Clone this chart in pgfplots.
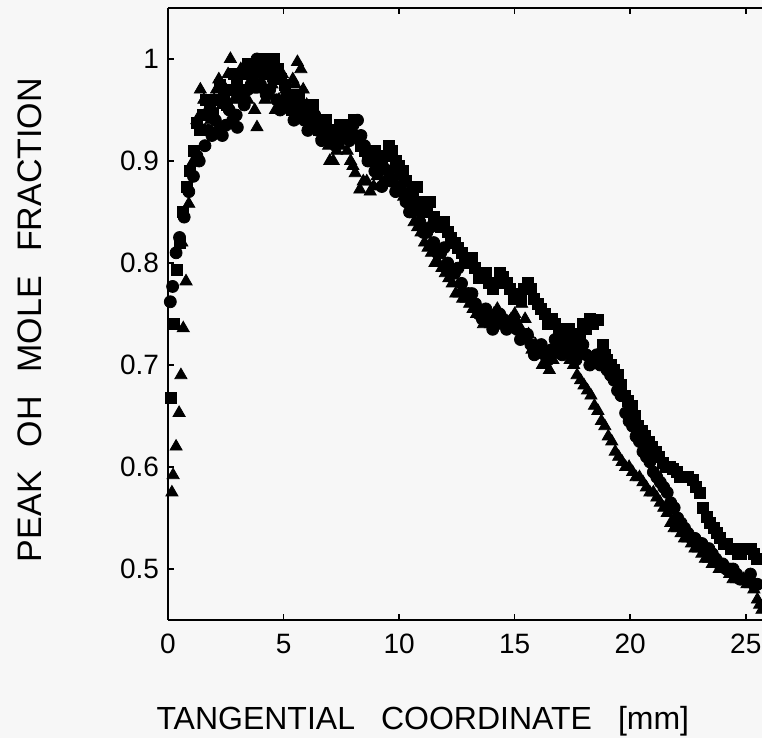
\documentclass[border=0pt]{standalone}
\usepackage{fontspec}
\setmainfont{Liberation Sans}
\usepackage{pgfplots}
\pgfplotsset{compat=1.18}
\pgfplotsset{
  circ/.style={only marks, mark=*, mark size=3pt, black},
  sq/.style={only marks, mark=square*, mark size=2.75pt, black},
  tri/.style={only marks, mark=triangle*, mark size=3.5pt, black},
}
\begin{document}
\begin{tikzpicture}
\path[use as bounding box, fill=white!97!black] (-84pt,-59pt) rectangle (297pt,310pt);
\begin{axis}[
  at={(0,0)}, anchor=south west,
  scale only axis, width=297pt, height=306pt,
  xmin=0, xmax=25.7, ymin=0.45, ymax=1.05,
  axis x line*=box, axis y line*=left,
  xtick={0,5,10,15,20,25}, ytick={0.5,0.6,0.7,0.8,0.9,1},
  yticklabels={0.5,0.6,0.7,0.8,0.9,1},
  /pgf/number format/assume math mode=true,
  tick label style={font=\fontsize{14}{16}\selectfont},
  xticklabel style={yshift=-3.5pt},
  yticklabel style={xshift=-1pt},
  major tick length=3pt,
  tick style={black, line width=0.8pt},
  axis line style={line width=1pt},
  xlabel={TANGENTIAL\hspace{13pt}COORDINATE\hspace{13pt}[mm]},
  ylabel={PEAK\hspace{12pt}OH\hspace{12pt}MOLE\hspace{12pt}FRACTION},
  xlabel style={font=\fontsize{16}{18}\selectfont, at={(axis description cs:0.429,0)}, anchor=base, yshift=-55pt},
  ylabel style={font=\fontsize{17}{19}\selectfont, at={([xshift=-63pt]axis description cs:0,0.49)}, anchor=base},
  clip=true,
]
% circles
\addplot[circ] coordinates {
(0.1,0.762)(0.2,0.777)(0.35,0.81)(0.5,0.825)(0.7,0.845)(0.9,0.87)(1.1,0.885)(1.35,0.90)(1.6,0.915)(1.9,0.925)(2.2,0.93)(2.5,0.935)(2.8,0.94)(3.0,0.933)(3.3,0.955)(3.6,0.975)(3.85,1.0)(4.1,0.99)(4.4,0.97)(4.7,0.96)(5.0,0.955)(5.3,0.95)(5.6,0.945)(5.9,0.94)(6.2,0.935)(6.5,0.93)(6.8,0.925)(7.1,0.92)(7.4,0.925)(7.7,0.93)(8.0,0.935)(8.2,0.94)(8.5,0.915)(8.8,0.90)(9.1,0.89)(9.4,0.88)(9.7,0.88)(10.0,0.875)(10.3,0.86)(10.6,0.85)(10.9,0.84)(11.2,0.83)(11.5,0.82)(11.8,0.81)(12.1,0.80)(12.4,0.79)(12.7,0.78)(13.0,0.77)(13.3,0.76)(13.6,0.745)(13.9,0.745)(14.2,0.74)(14.5,0.745)(14.8,0.74)(15.1,0.735)(15.4,0.73)(15.7,0.72)(16.0,0.715)(16.3,0.71)(16.6,0.715)(16.9,0.72)(17.2,0.715)(17.5,0.71)(17.8,0.715)(18.1,0.71)(18.4,0.705)(18.7,0.70)(19.0,0.695)(19.3,0.685)(19.6,0.67)(19.8,0.653)(20.1,0.64)(20.4,0.625)(20.7,0.61)(21.0,0.595)(21.3,0.585)(21.6,0.575)(21.9,0.56)(22.2,0.545)(22.5,0.535)(22.8,0.53)(23.1,0.525)(23.4,0.52)(23.7,0.51)(24.0,0.505)(24.3,0.50)(24.6,0.495)(24.9,0.49)(25.2,0.495)(25.5,0.485)
};
\addplot[circ] coordinates {
(1.25,0.905)(1.75,0.93)(2.05,0.94)(2.35,0.925)(2.65,0.95)(2.95,0.945)(3.15,0.965)(3.45,0.97)(3.75,0.985)(4.0,0.975)(4.25,0.965)(4.55,0.98)(4.85,0.95)(5.15,0.965)(5.45,0.94)(5.75,0.955)(6.05,0.93)(6.35,0.945)(6.65,0.92)(6.95,0.93)(7.25,0.915)(7.55,0.93)(7.85,0.92)(8.35,0.925)(8.65,0.9)(8.95,0.89)(9.25,0.875)(9.55,0.89)(9.85,0.87)(10.15,0.87)(10.45,0.85)(10.75,0.855)(11.05,0.83)(11.35,0.835)(11.65,0.81)(11.95,0.815)(12.25,0.79)(12.55,0.795)(12.85,0.77)(13.15,0.77)(13.45,0.75)(13.75,0.755)(14.05,0.735)(14.35,0.75)(14.65,0.735)(14.95,0.745)(15.25,0.725)(15.55,0.73)(15.85,0.71)(16.15,0.72)(16.45,0.705)(16.75,0.725)(17.05,0.71)(17.35,0.72)(17.65,0.705)(17.95,0.72)(18.25,0.70)(18.55,0.71)
(19.15,0.69)(19.45,0.675)(19.95,0.645)(20.25,0.63)(20.55,0.615)(20.85,0.605)(21.15,0.59)(21.45,0.58)(21.75,0.565)(22.05,0.55)(22.35,0.54)(22.65,0.53)(22.95,0.525)(23.25,0.52)(23.55,0.515)(23.85,0.505)(24.15,0.5)(24.45,0.5)(24.75,0.49)(25.05,0.49)(25.35,0.485)
};
% squares
\addplot[sq] coordinates {
(0.13,0.668)(0.27,0.74)(0.39,0.793)(0.5,0.82)(0.65,0.85)(0.8,0.875)(0.95,0.89)(1.1,0.91)(1.25,0.937)(1.5,0.945)(1.8,0.955)(2.1,0.96)(2.4,0.965)(2.7,0.97)(3.0,0.98)(3.3,0.985)(3.6,0.99)(3.9,0.995)(4.2,0.985)(4.6,1.0)(4.9,0.98)(5.2,0.965)(5.5,0.96)(5.8,0.955)(6.1,0.95)(6.4,0.94)(6.7,0.935)(7.0,0.93)(7.3,0.925)(7.6,0.93)(7.9,0.935)(8.2,0.925)(8.5,0.91)(8.8,0.90)(9.1,0.895)(9.4,0.905)(9.7,0.91)(10.0,0.895)(10.3,0.88)(10.6,0.87)(10.9,0.86)(11.2,0.855)(11.5,0.845)(11.8,0.835)(12.1,0.83)(12.4,0.82)(12.7,0.81)(13.0,0.80)(13.3,0.795)(13.6,0.785)(13.9,0.78)(14.2,0.78)(14.5,0.786)(14.8,0.775)(15.1,0.77)(15.4,0.775)(15.7,0.775)(16.0,0.76)(16.3,0.75)(16.6,0.745)(16.9,0.735)(17.2,0.73)(17.5,0.725)(17.8,0.73)(18.1,0.735)(18.4,0.74)(18.6,0.744)(18.8,0.72)(19.0,0.705)(19.3,0.695)(19.6,0.68)(19.9,0.665)(20.2,0.65)(20.5,0.635)(20.8,0.625)(21.1,0.615)(21.4,0.604)(21.7,0.60)(22.0,0.595)(22.3,0.59)(22.7,0.587)(23.0,0.575)(23.3,0.551)(23.6,0.54)(23.9,0.53)(24.2,0.525)(24.5,0.52)(24.8,0.515)(25.2,0.52)(25.5,0.51)
};
\addplot[sq] coordinates {
(1.4,0.93)(1.65,0.96)(1.95,0.945)(2.25,0.975)(2.55,0.955)(2.85,0.985)(3.15,0.97)(3.45,0.995)(3.75,0.975)(4.05,1.0)(4.4,0.99)(4.75,0.99)(5.05,0.975)(5.35,0.95)(5.65,0.965)(5.95,0.945)(6.25,0.955)(6.55,0.93)(6.85,0.94)(7.15,0.92)(7.45,0.935)(7.75,0.925)(8.05,0.94)(8.35,0.915)(8.65,0.905)(8.95,0.91)(9.25,0.9)(9.55,0.915)(9.85,0.9)(10.15,0.89)(10.45,0.865)(10.75,0.875)(11.05,0.85)(11.35,0.86)(11.65,0.84)(11.95,0.84)(12.25,0.825)(12.55,0.815)(12.85,0.8)(13.15,0.805)(13.45,0.785)(13.75,0.79)(14.05,0.775)(14.35,0.79)(14.65,0.78)(14.95,0.765)(15.25,0.765)(15.55,0.78)(15.85,0.765)(16.15,0.755)(16.45,0.74)(16.75,0.74)(17.05,0.725)(17.35,0.735)(17.65,0.72)(17.95,0.74)(18.25,0.745)
(18.9,0.71)(19.15,0.70)(19.45,0.69)(19.75,0.67)(20.05,0.66)(20.35,0.64)(20.65,0.63)(20.95,0.62)(21.25,0.61)(21.55,0.60)(21.85,0.598)(22.15,0.59)(22.5,0.59)(22.85,0.58)(23.15,0.56)(23.45,0.545)(23.75,0.535)(24.05,0.525)(24.35,0.52)(24.65,0.515)(24.95,0.52)(25.35,0.515)
};
% triangles
\addplot[tri] coordinates {
(0.17,0.575)(0.22,0.592)(0.35,0.62)(0.48,0.653)(0.56,0.69)(0.66,0.736)(0.78,0.782)(0.6,0.82)(0.9,0.858)(1.1,0.90)(1.25,0.94)(1.4,0.97)(1.7,0.95)(2.0,0.96)(2.2,0.98)(2.5,0.97)(2.7,1.0)(3.0,0.97)(3.3,0.985)(3.6,0.97)(3.85,0.933)(4.2,0.96)(4.5,0.975)(4.8,0.96)(5.1,0.97)(5.4,0.98)(5.6,0.997)(5.85,0.97)(6.2,0.95)(6.5,0.935)(6.8,0.92)(7.0,0.90)(7.3,0.91)(7.6,0.92)(7.9,0.90)(8.1,0.888)(8.3,0.872)(8.6,0.88)(8.9,0.875)(9.2,0.89)(9.6,0.905)(9.9,0.885)(10.2,0.865)(10.5,0.85)(10.8,0.835)(11.1,0.82)(11.4,0.81)(11.7,0.80)(12.0,0.79)(12.3,0.78)(12.6,0.77)(12.9,0.765)(13.2,0.755)(13.5,0.75)(13.8,0.745)(14.1,0.75)(14.4,0.745)(14.7,0.735)(15.0,0.75)(15.3,0.76)(15.6,0.73)(15.9,0.72)(16.2,0.70)(16.5,0.695)(16.8,0.71)(17.1,0.72)(17.4,0.705)(17.7,0.69)(18.0,0.68)(18.3,0.67)(18.6,0.655)(18.9,0.64)(19.2,0.625)(19.5,0.61)(19.8,0.60)(20.1,0.595)(20.4,0.59)(20.7,0.58)(21.0,0.575)(21.3,0.565)(21.6,0.555)(21.9,0.54)(22.2,0.535)(22.5,0.53)(22.8,0.52)(23.1,0.515)(23.4,0.51)(23.7,0.505)(24.0,0.50)(24.3,0.495)(24.6,0.49)(24.9,0.49)(25.2,0.485)(25.5,0.47)(25.7,0.46)
};
\addplot[tri] coordinates {
(1.55,0.96)(1.85,0.94)(2.1,0.97)(2.35,0.955)(2.6,0.985)(2.85,0.96)(3.15,0.99)(3.45,0.96)(3.75,0.95)(4.0,0.97)(4.35,0.985)(4.65,0.95)(4.95,0.985)(5.25,0.96)(5.5,0.975)(5.75,0.99)(6.0,0.955)(6.35,0.94)(6.65,0.925)(6.95,0.915)(7.15,0.9)(7.45,0.915)(7.75,0.91)(8.0,0.895)(8.45,0.88)(8.75,0.87)(9.05,0.885)(9.4,0.895)(9.75,0.895)(10.05,0.87)(10.35,0.86)(10.65,0.84)(10.95,0.83)(11.25,0.815)(11.55,0.80)(11.85,0.795)(12.15,0.785)(12.45,0.77)(12.75,0.765)(13.05,0.76)(13.35,0.75)(13.65,0.74)(13.95,0.74)(14.25,0.755)(14.55,0.74)(14.85,0.745)(15.15,0.74)(15.45,0.745)(15.75,0.715)(16.05,0.71)(16.35,0.7)(16.65,0.705)(16.95,0.715)(17.25,0.71)(17.55,0.70)
(17.85,0.685)(18.15,0.675)(18.45,0.66)(18.75,0.645)(19.05,0.63)(19.35,0.615)(19.65,0.605)(19.95,0.6)(20.25,0.59)(20.55,0.585)(20.85,0.575)(21.15,0.57)(21.45,0.56)(21.75,0.545)(22.05,0.54)(22.35,0.53)(22.65,0.525)(22.95,0.52)(23.25,0.51)(23.55,0.505)(23.85,0.5)(24.15,0.5)(24.45,0.49)(24.75,0.49)(25.05,0.485)(25.35,0.48)(25.6,0.465)
};
\end{axis}
\end{tikzpicture}
\end{document}
